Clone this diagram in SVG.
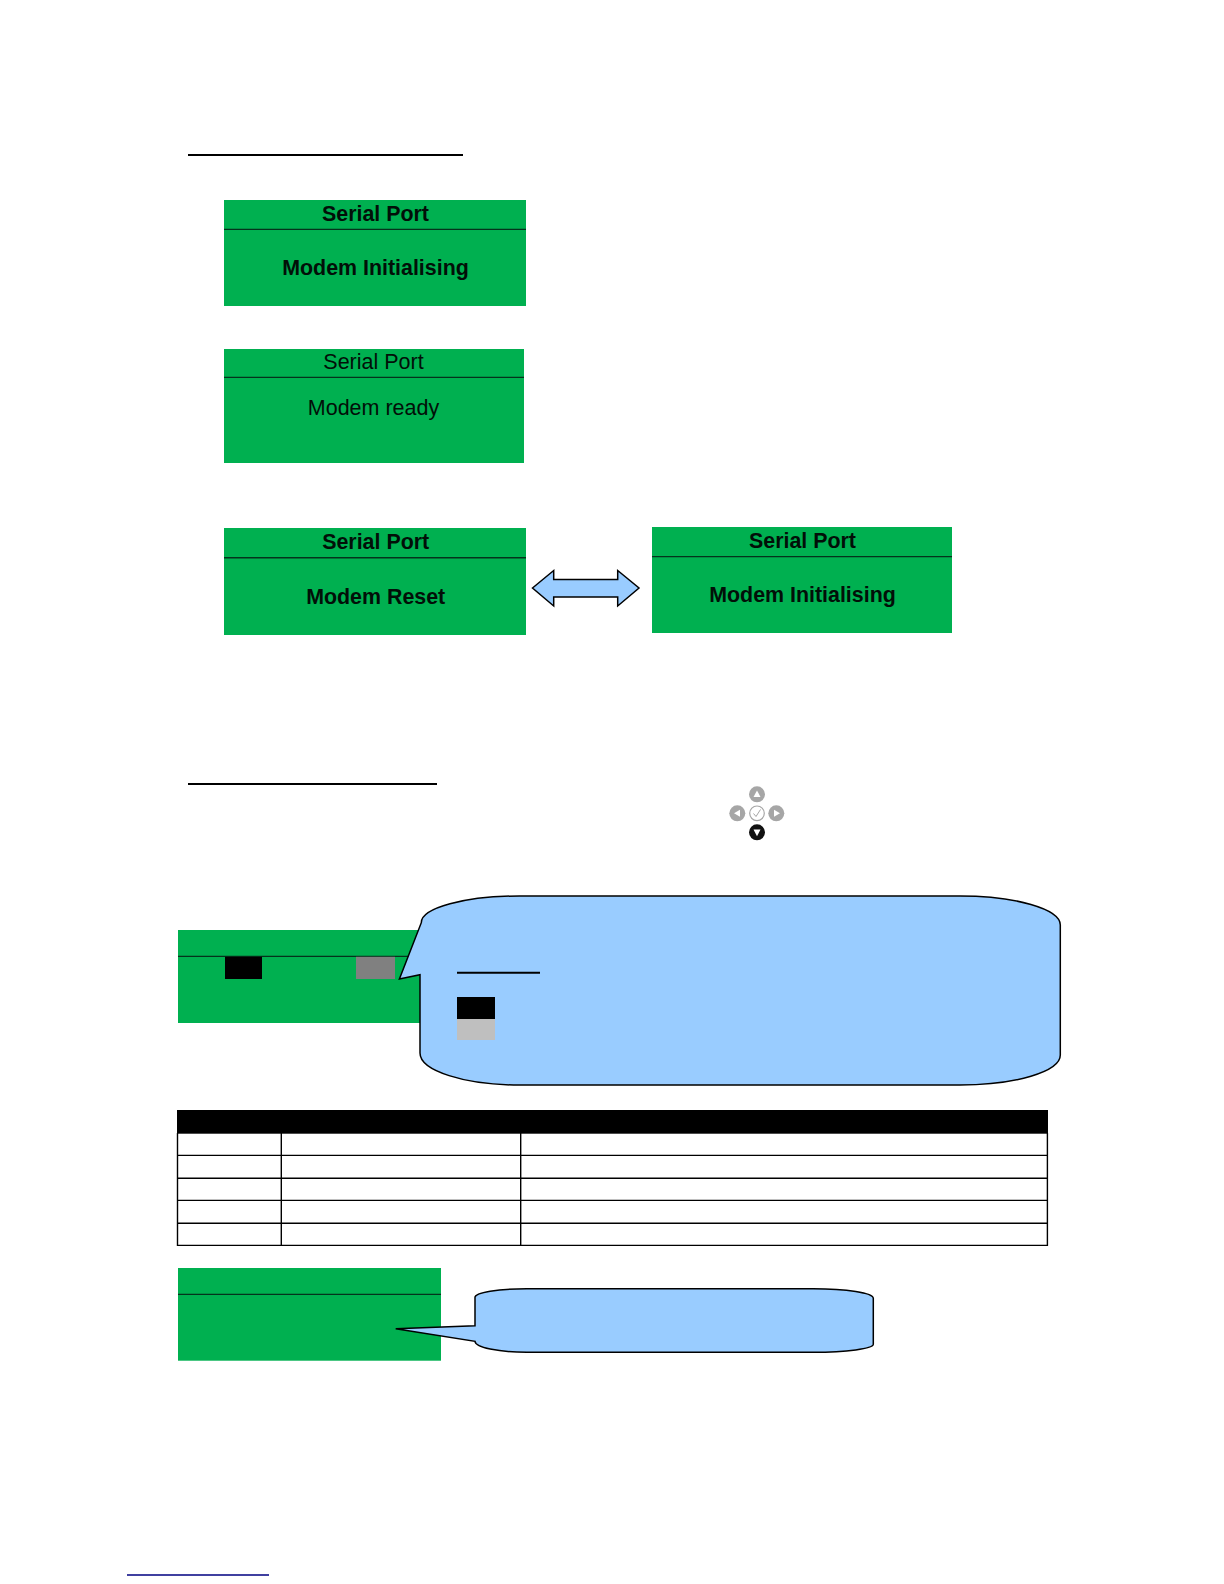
<svg xmlns="http://www.w3.org/2000/svg" width="1224" height="1584" viewBox="0 0 1224 1584">
<style>
.panel{fill:#00B050}
.sep{stroke:#04331c;stroke-width:1.2;fill:none}
.rule{stroke:#000;stroke-width:2;fill:none}
.call{fill:#99CCFF;stroke:#000;stroke-width:1.5;stroke-linejoin:miter}
.grid{stroke:#000;stroke-width:1.4;fill:none}
text{font-family:"Liberation Sans",Arial,sans-serif;font-size:21.5px;fill:#020f08;text-anchor:middle}
.b{font-weight:bold;font-size:21.4px}
.btn{fill:#a6a6a6}
.glyph{fill:#fff}
</style>
<rect width="1224" height="1584" fill="#fff"/>
<g id="rule-1"><line class="rule" x1="188" y1="155" x2="463" y2="155"/></g>
<g id="panel-initialising">
<rect class="panel" x="224" y="200" width="302" height="106"/>
<line class="sep" x1="224" y1="229.4" x2="526" y2="229.4"/>
<text class="b" x="375.5" y="221">Serial Port</text>
<text class="b" x="375.5" y="275">Modem Initialising</text>
</g>
<g id="panel-ready">
<rect class="panel" x="224" y="349" width="300" height="114"/>
<line class="sep" x1="224" y1="377.4" x2="524" y2="377.4"/>
<text x="373.5" y="369">Serial Port</text>
<text x="373.5" y="415">Modem ready</text>
</g>
<g id="panel-reset">
<rect class="panel" x="224" y="528" width="302" height="107"/>
<line class="sep" x1="224" y1="557.7" x2="526" y2="557.7" style="stroke-width:1.6"/>
<text class="b" x="375.7" y="549">Serial Port</text>
<text class="b" x="375.7" y="604">Modem Reset</text>
</g>
<g id="panel-initialising-2">
<rect class="panel" x="652" y="527" width="300" height="106"/>
<line class="sep" x1="652" y1="556.7" x2="952" y2="556.7"/>
<text class="b" x="802.5" y="548">Serial Port</text>
<text class="b" x="802.5" y="602.3">Modem Initialising</text>
</g>
<g id="connectors">
<path class="call" d="M532.5 588L553.7 570.5V579.5H617.7V570.5L639 588L617.7 606V597H553.7V606Z"/>
</g>
<g id="rule-2"><line class="rule" x1="188" y1="784" x2="437" y2="784"/></g>
<g id="nav-pad">
<circle class="btn" cx="757" cy="794.3" r="8"/><path class="glyph" d="M757 790.5L760.5 797H753.5Z"/>
<circle class="btn" cx="737.3" cy="813.3" r="8"/><path class="glyph" d="M734 813.3L740 809.8V816.8Z"/>
<circle cx="757" cy="813.3" r="7.3" fill="#fff" stroke="#a6a6a6" stroke-width="1.2"/>
<path d="M753.5 813.5L756 816.5L760.5 809.5" fill="none" stroke="#a6a6a6" stroke-width="1"/>
<circle class="btn" cx="776.3" cy="813.3" r="8"/><path class="glyph" d="M780 813.3L774 809.8V816.8Z"/>
<circle cx="757" cy="832.3" r="8" fill="#111"/><path class="glyph" d="M757 836.3L753.5 829.5H760.5Z"/>
</g>
<g id="panel-levels">
<rect class="panel" x="178" y="930" width="250" height="93"/>
<line class="sep" x1="178" y1="956.4" x2="428" y2="956.4"/>
<rect x="225" y="956.8" width="37" height="22.2" fill="#000"/>
<rect x="356" y="956.8" width="39" height="22.2" fill="#808080"/>
</g>
<g id="callout-large">
<path class="call" d="M421.3 922.7A98 26.7 0 0 1 519.3 896H960A100.3 29 0 0 1 1060.3 925V1055A100.3 30 0 0 1 960 1085H519.3A99.3 32 0 0 1 420 1053V974.7L399.4 979Z"/>
<line class="rule" x1="457" y1="972.7" x2="540" y2="972.7"/>
<rect x="457" y="997" width="38" height="22" fill="#000"/>
<rect x="457" y="1019" width="38" height="21" fill="#BFBFBF"/>
</g>
<g id="table">
<rect x="177" y="1110" width="871" height="23.7" fill="#000"/>
<path class="grid" d="M177.5 1133V1245.4H1047.4V1133M281.3 1133V1245.4M520.7 1133V1245.4M177.5 1155.4H1047.4M177.5 1178.3H1047.4M177.5 1200.4H1047.4M177.5 1223.3H1047.4"/>
</g>
<g id="panel-bottom">
<rect class="panel" x="178" y="1268" width="263" height="92.7"/>
<line class="sep" x1="178" y1="1294.4" x2="441" y2="1294.4"/>
</g>
<g id="callout-small">
<path class="call" d="M475 1297.3A51.7 8.6 0 0 1 526.7 1288.7H813.3A60 9.6 0 0 1 873.3 1298.3V1344.3A60 8 0 0 1 813.3 1352.3H526.7A51.7 11 0 0 1 475 1341.3L395.7 1328.7L475 1325.7Z"/>
</g>
<g id="footer-rule"><line x1="127" y1="1575" x2="269" y2="1575" stroke="#000080" stroke-width="1.6"/></g>
</svg>
